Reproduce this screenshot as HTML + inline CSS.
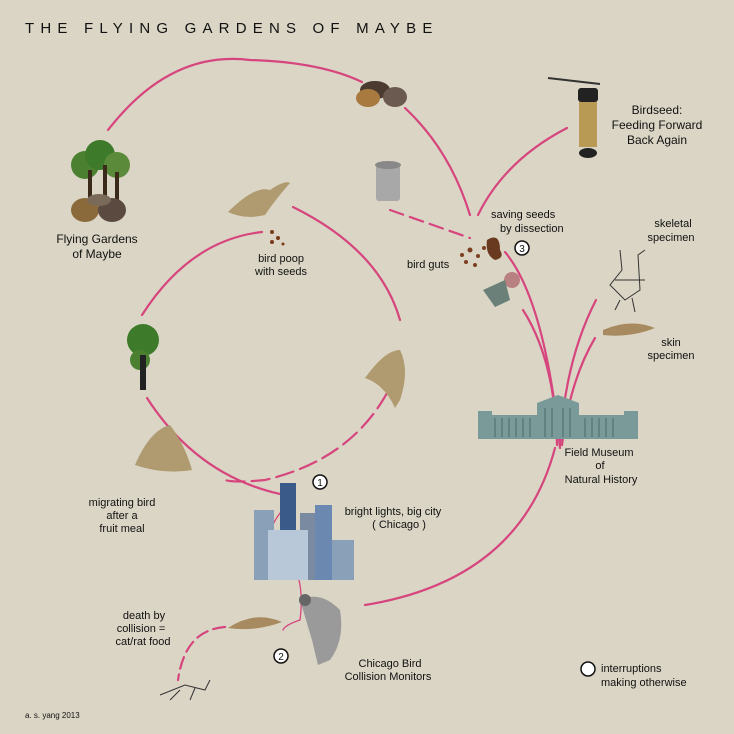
<!DOCTYPE html>
<html><head><meta charset="utf-8"><style>
html,body{margin:0;padding:0;background:#dbd5c5}
svg{display:block}
text{font-family:"Liberation Sans",sans-serif;fill:#111;font-size:11px}
</style></head><body>
<svg width="734" height="734" viewBox="0 0 734 734" xmlns="http://www.w3.org/2000/svg">
<rect width="734" height="734" fill="#dbd5c5"/>
<text x="25" y="33" style="font-size:15px;letter-spacing:6.2px">THE FLYING  GARDENS  OF  MAYBE</text>
<g fill="none" stroke="#d6457d" stroke-width="2.2" stroke-linecap="round">
<path d="M108 130 Q170 50 250 60 Q320 62 362 82"/>
<path d="M405 108 Q450 150 470 215"/>
<path d="M567 128 Q505 160 478 215"/>
<path d="M390 210 L470 238" stroke-dasharray="14 7"/>
<path d="M505 252 Q545 300 560 448"/>
<path d="M523 310 Q555 360 557 445"/>
<path d="M596 300 Q565 360 560 445"/>
<path d="M595 338 Q570 380 562 445"/>
<path d="M555 448 Q520 580 365 605"/>
<path d="M142 315 Q190 240 262 232"/>
<path d="M293 207 Q380 250 400 320"/>
<path d="M387 393 Q350 460 265 480 Q235 483 225 480" stroke-dasharray="18 7"/>
<path d="M147 398 Q200 480 290 496"/>
<path d="M292 500 Q250 540 290 560 Q305 580 300 620 Q285 625 283 630" stroke-width="1.3"/>
<path d="M225 627 Q185 630 178 680" stroke-dasharray="12 6"/>
</g>
<!-- bonsai -->
<g><circle cx="85" cy="165" r="14" fill="#4a8030"/><circle cx="100" cy="155" r="15" fill="#3d7a2a"/><circle cx="117" cy="165" r="13" fill="#5b8a3a"/>
<rect x="88" y="170" width="4" height="30" fill="#3a2a1a"/><rect x="103" y="165" width="4" height="35" fill="#3a2a1a"/><rect x="115" y="172" width="4" height="30" fill="#3a2a1a"/>
<ellipse cx="85" cy="210" rx="14" ry="12" fill="#8a6a3a"/><ellipse cx="112" cy="210" rx="14" ry="12" fill="#5a4a40"/><ellipse cx="99" cy="200" rx="12" ry="6" fill="#7a6a5a"/></g>
<text x="97" y="243" text-anchor="middle" style="font-size:12px">Flying Gardens</text>
<text x="97" y="258" text-anchor="middle" style="font-size:12px">of Maybe</text>
<!-- bowls -->
<g><ellipse cx="375" cy="90" rx="15" ry="9" fill="#4a3a30"/><ellipse cx="368" cy="98" rx="12" ry="9" fill="#a87a40"/><ellipse cx="395" cy="97" rx="12" ry="10" fill="#6a5a50"/></g>
<!-- feeder -->
<path d="M548 78 L600 84" stroke="#333" stroke-width="2"/>
<rect x="578" y="88" width="20" height="14" rx="3" fill="#222"/>
<rect x="579" y="102" width="18" height="45" fill="#b89a55"/>
<ellipse cx="588" cy="153" rx="9" ry="5" fill="#222"/>
<text x="657" y="114" text-anchor="middle" style="font-size:12px">Birdseed:</text>
<text x="657" y="129" text-anchor="middle" style="font-size:12px">Feeding Forward</text>
<text x="657" y="144" text-anchor="middle" style="font-size:12px">Back Again</text>
<!-- trash -->
<rect x="376" y="165" width="24" height="36" rx="3" fill="#a8a8a8"/><ellipse cx="388" cy="165" rx="13" ry="4" fill="#888"/>
<!-- guts -->
<g fill="#7a4020"><circle cx="462" cy="255" r="2"/><circle cx="470" cy="250" r="2.5"/><circle cx="478" cy="256" r="2"/><circle cx="466" cy="262" r="2"/><circle cx="475" cy="265" r="2"/><circle cx="484" cy="248" r="2"/></g>
<path d="M487 240 Q500 232 500 250 Q505 258 495 260 Q485 255 487 240Z" fill="#6a3a20"/>
<circle cx="512" cy="280" r="8" fill="#b88080"/><path d="M483 290 L505 280 L510 300 L495 307 Z" fill="#6a8078"/>
<text x="491" y="218" style="font-size:11px">saving seeds</text>
<text x="500" y="232" style="font-size:11px">by dissection</text>
<circle cx="522" cy="248" r="7" fill="#fff" stroke="#111" stroke-width="1.5"/><text x="522" y="252" text-anchor="middle" style="font-size:10px">3</text>
<text x="407" y="268" style="font-size:11px">bird guts</text>
<!-- skeleton -->
<g stroke="#333" fill="none" stroke-width="1"><path d="M620 250 L622 270 L610 285 L625 300 L640 290 L638 255 L645 250"/><path d="M615 280 L645 280 M620 300 L615 310 M632 298 L635 312"/></g>
<text x="673" y="227" text-anchor="middle" style="font-size:11px">skeletal</text>
<text x="671" y="241" text-anchor="middle" style="font-size:11px">specimen</text>
<path d="M603 330 Q630 318 655 328 Q630 338 603 335Z" fill="#a88a60"/>
<text x="671" y="346" text-anchor="middle" style="font-size:11px">skin</text>
<text x="671" y="359" text-anchor="middle" style="font-size:11px">specimen</text>
<!-- museum -->
<g fill="#7a9a9a"><rect x="478" y="415" width="160" height="24"/><rect x="537" y="403" width="42" height="36"/><path d="M537 403 L558 395 L579 403Z"/><rect x="478" y="411" width="14" height="6"/><rect x="624" y="411" width="14" height="6"/></g>
<g stroke="#4a6a6a" stroke-width="1"><path d="M495 418 V437 M502 418 V437 M509 418 V437 M516 418 V437 M523 418 V437 M530 418 V437 M545 408 V437 M552 408 V437 M563 408 V437 M570 408 V437 M585 418 V437 M592 418 V437 M599 418 V437 M606 418 V437 M613 418 V437"/></g>
<text x="599" y="456" text-anchor="middle" style="font-size:11px">Field Museum</text>
<text x="600" y="469" text-anchor="middle" style="font-size:11px">of</text>
<text x="601" y="483" text-anchor="middle" style="font-size:11px">Natural History</text>
<!-- birds -->
<path d="M228 212 Q255 185 270 190 Q285 180 290 183 Q275 200 265 215 Q245 220 228 212Z" fill="#b09a70"/>
<g fill="#7a3a1a"><circle cx="272" cy="232" r="2"/><circle cx="278" cy="238" r="2"/><circle cx="272" cy="242" r="2"/><circle cx="283" cy="244" r="1.5"/></g>
<text x="281" y="262" text-anchor="middle" style="font-size:11px">bird poop</text>
<text x="281" y="275" text-anchor="middle" style="font-size:11px">with seeds</text>
<path d="M365 378 Q385 350 400 350 Q410 370 400 400 L395 408 Q385 385 365 378Z" fill="#b09a70"/>
<path d="M135 465 Q150 430 170 425 Q185 445 192 470 Q165 475 135 465Z" fill="#b09a70"/>
<path d="M228 628 Q255 610 282 622 Q255 632 228 628Z" fill="#a88a60"/>
<!-- trees -->
<circle cx="143" cy="340" r="16" fill="#3d7a2a"/><circle cx="140" cy="360" r="10" fill="#4a8030"/><rect x="140" y="355" width="6" height="35" fill="#222"/>
<text x="122" y="506" text-anchor="middle" style="font-size:11px">migrating bird</text>
<text x="122" y="519" text-anchor="middle" style="font-size:11px">after a</text>
<text x="122" y="532" text-anchor="middle" style="font-size:11px">fruit meal</text>
<!-- city -->
<g><rect x="254" y="510" width="20" height="70" fill="#8aa0b8"/><rect x="280" y="483" width="16" height="97" fill="#3a5a8a"/><rect x="300" y="513" width="15" height="67" fill="#7a8aa0"/><rect x="315" y="505" width="17" height="75" fill="#6a88b0"/><rect x="332" y="540" width="22" height="40" fill="#8aa0b8"/><rect x="268" y="530" width="40" height="50" fill="#b8c8d8"/></g>
<circle cx="320" cy="482" r="7" fill="#fff" stroke="#111" stroke-width="1.5"/><text x="320" y="486" text-anchor="middle" style="font-size:10px">1</text>
<text x="393" y="515" text-anchor="middle" style="font-size:11px">bright lights, big city</text>
<text x="399" y="528" text-anchor="middle" style="font-size:11px">( Chicago )</text>
<!-- person -->
<path d="M300 600 Q320 590 340 610 Q345 640 330 660 L318 665 L312 640 Z" fill="#9a9a9a"/><circle cx="305" cy="600" r="6" fill="#666"/>
<circle cx="281" cy="656" r="7" fill="#fff" stroke="#111" stroke-width="1.5"/><text x="281" y="660" text-anchor="middle" style="font-size:10px">2</text>
<text x="390" y="667" text-anchor="middle" style="font-size:11px">Chicago Bird</text>
<text x="388" y="680" text-anchor="middle" style="font-size:11px">Collision Monitors</text>
<text x="144" y="619" text-anchor="middle" style="font-size:11px">death by</text>
<text x="141" y="632" text-anchor="middle" style="font-size:11px">collision =</text>
<text x="143" y="645" text-anchor="middle" style="font-size:11px">cat/rat food</text>
<g stroke="#333" fill="none"><path d="M160 695 L185 685 L205 690 L210 680 M170 700 L180 690 M190 700 L195 688"/></g>
<circle cx="588" cy="669" r="7" fill="#fff" stroke="#111" stroke-width="1.5"/>
<text x="601" y="672" style="font-size:11px">interruptions</text>
<text x="601" y="686" style="font-size:11px">making otherwise</text>
<text x="25" y="718" style="font-size:8px">a. s. yang 2013</text>
</svg>
</body></html>
